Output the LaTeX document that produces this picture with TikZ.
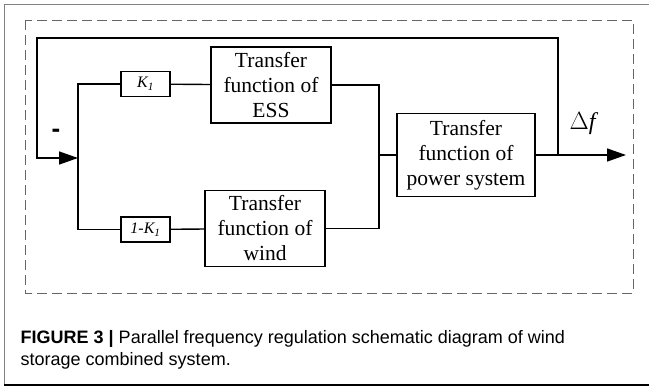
\documentclass[tikz,border=0pt]{standalone}
\usepackage{fontspec}
\setmainfont{Liberation Serif}
\setsansfont{Liberation Sans}
\usetikzlibrary{arrows.meta}

\begin{document}
\begin{tikzpicture}[x=1pt, y=-1pt, >={Triangle[length=19pt,width=13pt]},
    line width=1.4pt,
    tfbox/.style={draw, line width=1.2pt, minimum width=120pt, minimum height=76pt, inner sep=0pt, align=center, font=\fontsize{21.5}{25}\selectfont},
    gainbox/.style={draw, line width=1.2pt, minimum width=49pt, minimum height=25pt, inner sep=0pt, font=\fontsize{16}{18}\selectfont\itshape}]
      \useasboundingbox (0,0) rectangle (649,388);
      % frame of the figure
      \draw[line width=1pt, gray] (649,4) -- (4,4) -- (4,385);
      \draw[line width=1.3pt] (4,385) -- (649,385);
      \draw[dash pattern=on 10pt off 5pt, line width=1pt, black!60] (25,20) rectangle (633,293);
      % blocks
      \node[gainbox] (kess) at (145.5,84) {K\textsubscript{1}};
      \node[gainbox] (kwind) at (145.5,229.5) {1-K\textsubscript{1}};
      \node[tfbox] (ess) at (271,85) {Transfer\\function of\\ESS};
      \node[tfbox] (wind) at (265,228.5) {Transfer\\function of\\wind};
      \node[tfbox, minimum width=138pt, minimum height=83pt] (power) at (466,155) {Transfer\\function of\\power system};
      % branch points
      \coordinate (sum) at (78,158);
      \coordinate (join) at (379,155);
      \coordinate (tap) at (558,155);
      \coordinate (out) at (626,155);
      \coordinate (fbcorner) at (37,38);
      \draw (kess.west) -| (sum) |- (kwind.west);
      \draw (kess) -- (ess);
      \draw (kwind) -- (wind);
      \draw (ess.east) -| (join) |- (wind.east);
      \draw (join) -- (power.west);
      \draw[->] (power.east) -- (out);
      \draw[->] (tap) |- (fbcorner) |- (sum);
      \node[font=\fontsize{26}{26}\selectfont\sffamily\bfseries] (minus) at (56,133) {-};
      \node[font=\fontsize{24}{24}\selectfont] (df) at (584,124) {$\Delta$\textit{f}};
      % caption
      \node[anchor=base west, inner sep=0pt, font=\fontsize{18}{18}\selectfont\sffamily] (cap) at (20,343) {\textbf{FIGURE 3 |} Parallel frequency regulation schematic diagram of wind};
      \node[anchor=base west, inner sep=0pt, font=\fontsize{18}{18}\selectfont\sffamily] (capnext) at (20,365) {storage combined system.};
    \end{tikzpicture}
\end{document}
